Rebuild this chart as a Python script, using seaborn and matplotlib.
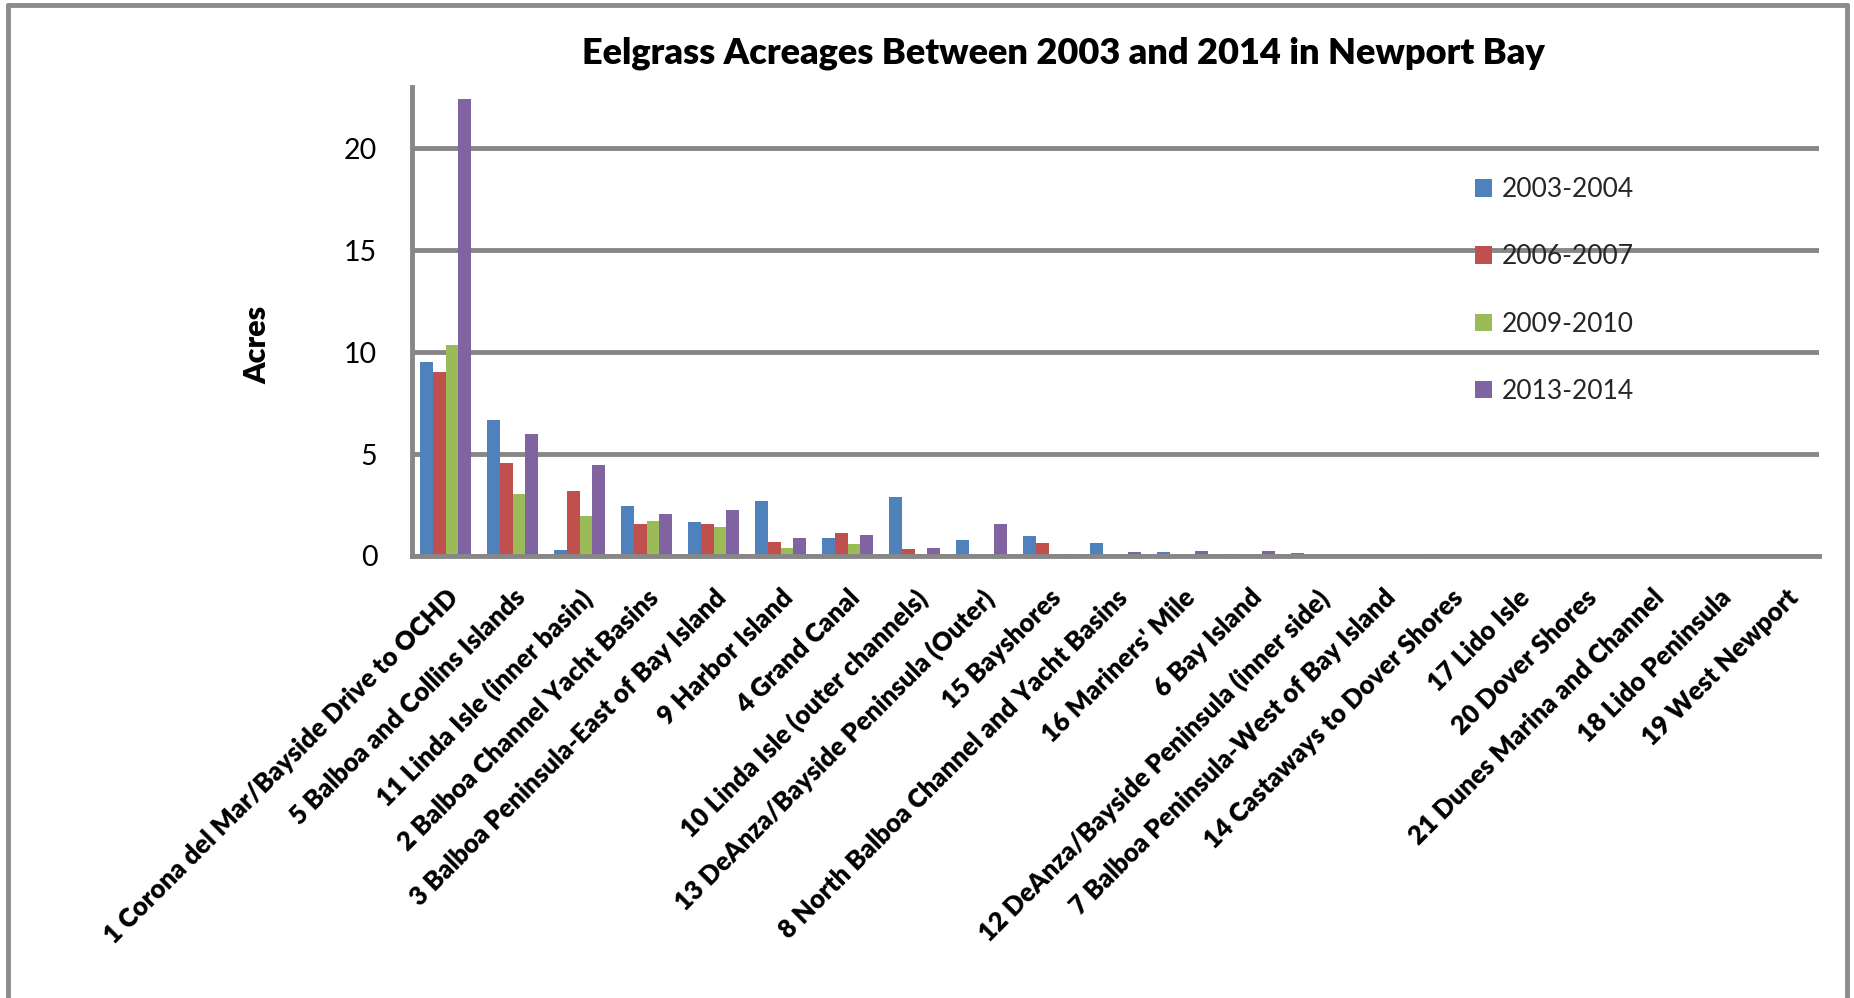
import numpy as np
import pandas as pd
import seaborn as sns
import matplotlib
matplotlib.use("Agg")
import matplotlib.pyplot as plt
from matplotlib.lines import Line2D
from matplotlib.patches import Patch

categories = [
    "1 Corona del Mar/Bayside Drive to OCHD",
    "5 Balboa and Collins Islands",
    "11 Linda Isle (inner basin)",
    "2 Balboa Channel Yacht Basins",
    "3 Balboa Peninsula-East of Bay Island",
    "9 Harbor Island",
    "4 Grand Canal",
    "10 Linda Isle (outer channels)",
    "13 DeAnza/Bayside Peninsula (Outer)",
    "15 Bayshores",
    "8 North Balboa Channel and Yacht Basins",
    "16 Mariners' Mile",
    "6 Bay Island",
    "12 DeAnza/Bayside Peninsula (inner side)",
    "7 Balboa Peninsula-West of Bay Island",
    "14 Castaways to Dover Shores",
    "17 Lido Isle",
    "20 Dover Shores",
    "21 Dunes Marina and Channel",
    "18 Lido Peninsula",
    "19 West Newport",
]
series_names = ["2003-2004", "2006-2007", "2009-2010", "2013-2014"]
acres_2003_2004 = [9.50, 6.68, 0.28, 2.45, 1.65, 2.71, 0.88, 2.90, 0.78, 0.98, 0.65,
                   0.20, 0.10, 0.13, 0.0, 0.10, 0.0, 0.0, 0.0, 0.0, 0.0]
acres_2006_2007 = [9.04, 4.56, 3.20, 1.55, 1.55, 0.70, 1.11, 0.33, 0.0, 0.65, 0.0,
                   0.0, 0.0, 0.0, 0.0, 0.0, 0.0, 0.0, 0.0, 0.0, 0.0]
acres_2009_2010 = [10.36, 3.05, 1.98, 1.73, 1.41, 0.41, 0.59, 0.0, 0.0, 0.0, 0.0,
                   0.0, 0.0, 0.0, 0.0, 0.0, 0.0, 0.0, 0.0, 0.0, 0.0]
acres_2013_2014 = [22.40, 5.98, 4.46, 2.07, 2.25, 0.88, 1.01, 0.38, 1.58, 0.10, 0.20,
                   0.25, 0.25, 0.0, 0.0, 0.0, 0.0, 0.0, 0.0, 0.0, 0.0]
y_ticks = [0, 5, 10, 15, 20]

colors = ["#4F81BD", "#C0504D", "#9BBB59", "#8064A2"]
grey = "#878787"

all_values = [acres_2003_2004, acres_2006_2007, acres_2009_2010, acres_2013_2014]
rows = []
for name, vals in zip(series_names, all_values):
    for cat, v in zip(categories, vals):
        rows.append({"Area": cat, "Period": name, "Acres": v})
df = pd.DataFrame(rows)

sns.set_theme(style="white")
plt.rcParams["font.family"] = ["Lato", "DejaVu Sans"]

W, H = 1854, 998
fig = plt.figure(figsize=(W / 100, H / 100), dpi=100)
ax_left, ax_right, ax_bottom, ax_top = 412, 1819, 556, 87
ax = fig.add_axes([ax_left / W, 1 - ax_bottom / H, (ax_right - ax_left) / W, (ax_bottom - ax_top) / H])

sns.barplot(data=df, x="Area", y="Acres", hue="Period", order=categories,
            hue_order=series_names, palette=colors, width=0.75, saturation=1,
            errorbar=None, ax=ax, linewidth=0)

ax.set_ylim(0, 23)
ax.set_xlim(-0.5, len(categories) - 0.5)
ax.set_yticks(y_ticks)
ax.set_yticklabels([str(t) for t in y_ticks], fontsize=20.5, color="black")
ax.tick_params(axis="y", length=0, pad=25)
ax.tick_params(axis="x", length=0, pad=21)
ax.set_xticks(range(len(categories)))
ax.set_xticklabels(categories, rotation=45, ha="right", rotation_mode="anchor",
                   fontsize=18.5, fontweight="heavy", color="black")
ax.yaxis.grid(True, color=grey, linewidth=3.5)
ax.set_axisbelow(True)
for side in ["top", "right"]:
    ax.spines[side].set_visible(False)
for side in ["left", "bottom"]:
    ax.spines[side].set_color(grey)
    ax.spines[side].set_linewidth(3.5)
ax.set_xlabel("")
ax.set_ylabel("")

leg = ax.get_legend()
if leg is not None:
    leg.remove()
handles = [Patch(facecolor=c, edgecolor="none") for c in colors]
fig.legend(handles, series_names, loc="upper left",
           bbox_to_anchor=(1462 / W, 1 - 164 / H), frameon=False,
           fontsize=19, handlelength=0.65, handleheight=0.65, handletextpad=0.35,
           labelspacing=1.6, borderpad=0)

fig.text(1063 / W, 1 - 53 / H, "Eelgrass Acreages Between 2003 and 2014 in Newport Bay",
         ha="center", va="center", fontsize=26, fontweight="heavy", color="black")
fig.text(257 / W, 1 - 345 / H, "Acres", rotation=90, ha="center", va="center",
         fontsize=22, fontweight="heavy", color="black")

# outer chart border
for (x0, y0, x1, y1) in [(8, 5, 1847, 5), (8, 5, 8, 998), (1847, 5, 1847, 998)]:
    fig.add_artist(Line2D([x0 / W, x1 / W], [1 - y0 / H, 1 - y1 / H],
                          transform=fig.transFigure, color="#8C8C8C", linewidth=3.5))

fig.savefig("out.png", dpi=100, facecolor="white")
